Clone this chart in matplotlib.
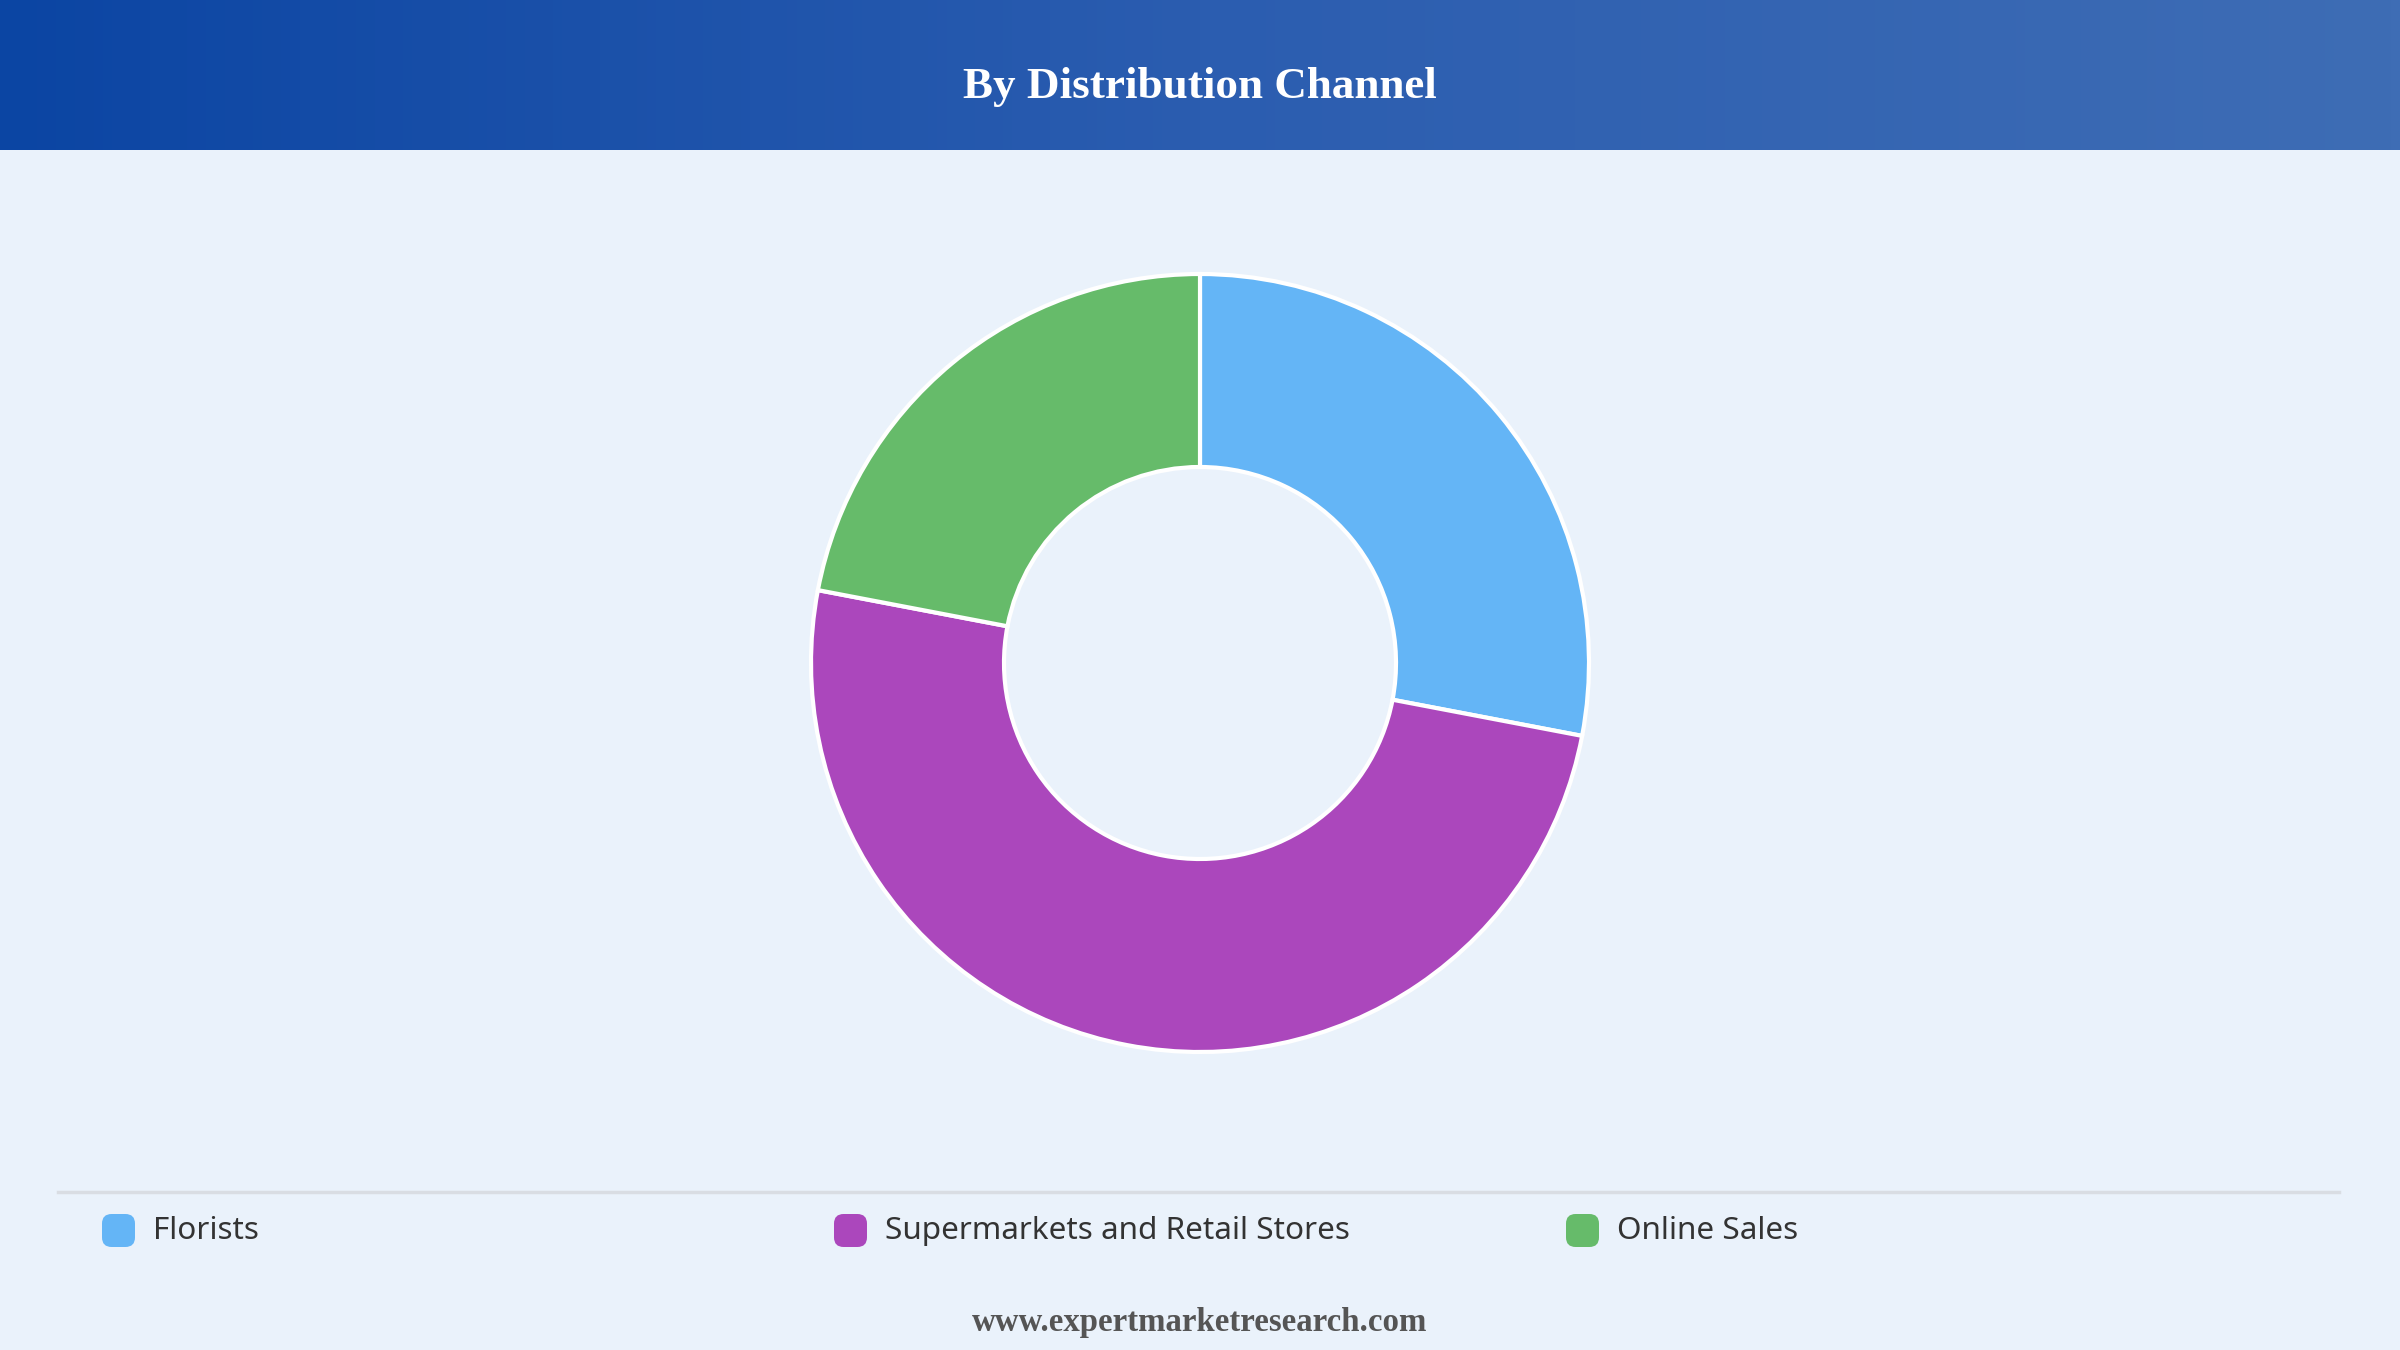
import matplotlib
matplotlib.use("Agg")
import matplotlib.pyplot as plt
import numpy as np
from matplotlib.colors import LinearSegmentedColormap
from matplotlib.patches import FancyBboxPatch

# data
title = "By Distribution Channel"
labels = ["Florists", "Supermarkets and Retail Stores", "Online Sales"]
shares = [28, 50, 22]
colors = ["#64B5F6", "#AB47BC", "#66BB6A"]
footer = "www.expertmarketresearch.com"

W, H = 2400, 1350
bg = "#EAF2FB"
fig = plt.figure(figsize=(W / 100, H / 100), dpi=100, facecolor=bg)

# header band with gradient
hdr = fig.add_axes([0, 1 - 150 / H, 1, 150 / H])
grad = LinearSegmentedColormap.from_list("hdr", ["#0B45A3", "#2B5DB0", "#3E6DB5"])
hdr.imshow(np.linspace(0, 1, 256).reshape(1, -1), aspect="auto", cmap=grad,
           extent=[0, 1, 0, 1])
hdr.set_axis_off()
hdr.text(0.5, 0.42, title, ha="center", va="center", color="white",
         fontsize=32.5, fontweight="bold", family="Liberation Serif")

# donut
cx, cy, half = 1200, H - 663, 400
ax = fig.add_axes([(cx - half) / W, (cy - half) / H, 2 * half / W, 2 * half / H])
ax.set_facecolor(bg)
r = 389 / half
ax.pie(shares, colors=colors, startangle=90, counterclock=False, radius=r,
       wedgeprops=dict(width=r * (1 - 196 / 389), edgecolor="white", linewidth=3))
ax.set_xlim(-1, 1)
ax.set_ylim(-1, 1)
ax.set_aspect("equal")
ax.set_axis_off()

# separator line
fig.add_artist(plt.Line2D([58 / W, 2339 / W], [1 - 1192 / H, 1 - 1192 / H],
                          color="#D9DDE3", linewidth=2.5))

# legend
leg_x = [102, 834, 1566]
ly = 1231
for x, lab, col in zip(leg_x, labels, colors):
    box = FancyBboxPatch(((x) / W, 1 - (ly + 16) / H), 33 / W, 33 / H,
                         boxstyle="round,pad=0,rounding_size=0.004",
                         transform=fig.transFigure, facecolor=col, edgecolor="none",
                         mutation_aspect=W / H)
    fig.add_artist(box)
    fig.text((x + 51) / W, 1 - ly / H, lab, ha="left", va="center",
             fontsize=22.7, color="#333333", family="Noto Sans", fontweight="medium")

# footer
fig.text(0.5, 1 - 1323 / H, footer, ha="center", va="center", fontsize=23.7,
         fontweight="bold", color="#555555", family="Liberation Serif")

fig.savefig("out.png", dpi=100, facecolor=bg)
